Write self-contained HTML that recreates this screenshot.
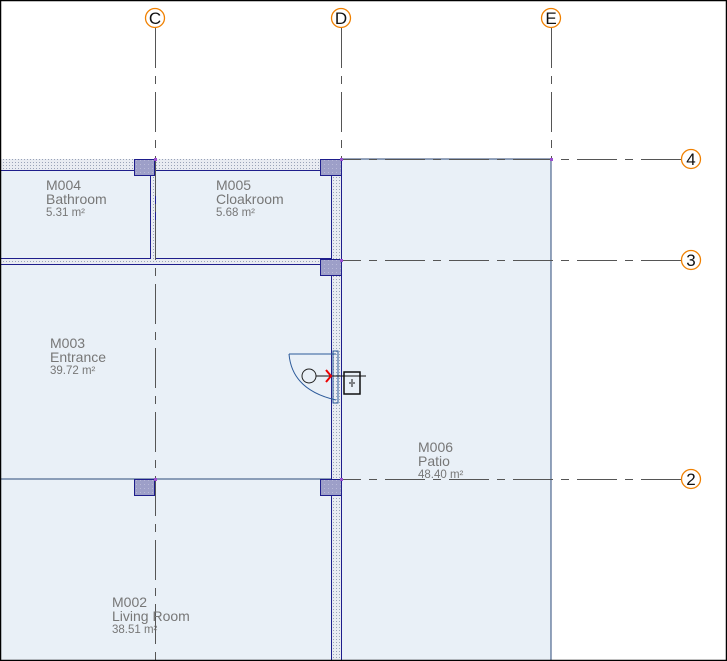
<!DOCTYPE html>
<html><head><style>
html,body{margin:0;padding:0;background:#fff;}
svg{display:block;}
text{font-family:"Liberation Sans",sans-serif;}
</style></head><body>
<svg width="727" height="661" viewBox="0 0 727 661" xmlns="http://www.w3.org/2000/svg">
<defs>
<pattern id="dots" width="3" height="3" patternUnits="userSpaceOnUse">
<rect width="3" height="3" fill="#e9ecf2"/><rect width="1" height="1" fill="#9aa3b8"/>
</pattern>
<pattern id="col" width="4" height="4" patternUnits="userSpaceOnUse">
<rect width="4" height="4" fill="#9d9fc8"/><rect x="0" y="0" width="1" height="1" fill="#b8b9d8"/>
</pattern>
</defs>
<rect x="0" y="0" width="727" height="661" fill="#fff"/>
<rect x="0" y="159" width="551" height="502" fill="#e9f0f7"/>
<line x1="551" y1="159" x2="551" y2="661" stroke="#2c4a7a" stroke-width="1"/>
<line x1="341" y1="159" x2="551" y2="159" stroke="#2c4a7a" stroke-width="1"/>
<rect x="0" y="159" width="342" height="11" fill="url(#dots)"/>
<rect x="0" y="259" width="342" height="5" fill="url(#dots)"/>
<rect x="150" y="170" width="5" height="89" fill="url(#dots)"/>
<rect x="331" y="159" width="11" height="502" fill="url(#dots)"/>
<g stroke="#1e1e8c" stroke-width="1" fill="none">
<path d="M0 170.5H135M150.5 176V258.5H0"/>
<path d="M155.5 176V258.5H331.5V176M155.5 170.5H321"/>
<path d="M0 264.5H321M331.5 275V479M331.5 496V661"/>
<path d="M341.5 159V661"/>
</g>
<line x1="0" y1="479" x2="331" y2="479" stroke="#2c4a7a"/>
<g fill="url(#col)" stroke="#1e1e8c" stroke-width="1">
<rect x="134.5" y="159.5" width="20" height="16"/>
<rect x="320.5" y="159.5" width="21" height="16"/>
<rect x="320.5" y="259.5" width="21" height="16"/>
<rect x="134.5" y="479.5" width="20" height="16"/>
<rect x="320.5" y="479.5" width="21" height="16"/>
</g>
<g stroke="#555" stroke-width="1" stroke-dasharray="40,8,8,8" fill="none">
<line x1="155.5" y1="28" x2="155.5" y2="661"/>
<line x1="341.5" y1="28" x2="341.5" y2="159"/>
<line x1="551.5" y1="28" x2="551.5" y2="159"/>
<line x1="681" y1="159.5" x2="341" y2="159.5"/>
<line x1="681" y1="260.5" x2="341" y2="260.5"/>
<line x1="681" y1="479.5" x2="341" y2="479.5"/>
</g>
<g fill="#9b4fd0">
<rect x="340" y="158" width="3" height="3"/><rect x="550" y="158" width="3" height="3"/>
<rect x="340" y="259" width="3" height="3"/><rect x="340" y="478" width="3" height="3"/>
<rect x="154" y="158" width="3" height="3"/><rect x="154" y="478" width="3" height="3"/>
</g>
<g fill="#fff" stroke="#f08000" stroke-width="1.3">
<circle cx="155" cy="18" r="9.5"/><circle cx="341" cy="18" r="9.5"/><circle cx="551" cy="18" r="9.5"/>
<circle cx="691" cy="159" r="9.5"/><circle cx="691" cy="260" r="9.5"/><circle cx="691" cy="479" r="9.5"/>
</g>
<g font-size="17" fill="#111" text-anchor="middle">
<text x="155" y="24">C</text><text x="341" y="24">D</text><text x="551" y="24">E</text>
<text x="691" y="165">4</text><text x="691" y="266">3</text><text x="691" y="485">2</text>
</g>
<g fill="none" stroke="#2c5a9a" stroke-width="1">
<path d="M289 354H336M289 354Q292 390 336 400"/>
<rect x="333" y="351" width="5" height="52"/>
</g>
<circle cx="309" cy="376" r="7" fill="none" stroke="#222"/>
<line x1="316" y1="376" x2="366" y2="376" stroke="#111"/>
<path d="M326 370L331 376L326 382" stroke="#e00" stroke-width="2" fill="none"/>
<rect x="344" y="372" width="16" height="22" fill="none" stroke="#111" stroke-width="1.5"/>
<path d="M349 383h2M355 383h-2M352 379v8" stroke="#111"/>
<g fill="#777">
<text x="46" y="190" font-size="14">M004</text><text x="46" y="204" font-size="14">Bathroom</text><text x="46" y="216" font-size="11.5">5.31 m²</text>
<text x="216" y="190" font-size="14">M005</text><text x="216" y="204" font-size="14">Cloakroom</text><text x="216" y="216" font-size="11.5">5.68 m²</text>
<text x="50" y="348" font-size="14">M003</text><text x="50" y="362" font-size="14">Entrance</text><text x="50" y="374" font-size="11.5">39.72 m²</text>
<text x="418" y="452" font-size="14">M006</text><text x="418" y="466" font-size="14">Patio</text><text x="418" y="478" font-size="11.5">48.40 m²</text>
<text x="112" y="607" font-size="14">M002</text><text x="112" y="621" font-size="14">Living Room</text><text x="112" y="633" font-size="11.5">38.51 m²</text>
</g>
<rect x="0.5" y="0.5" width="726" height="660" fill="none" stroke="#000" stroke-width="1.5"/>
</svg>
</body></html>
